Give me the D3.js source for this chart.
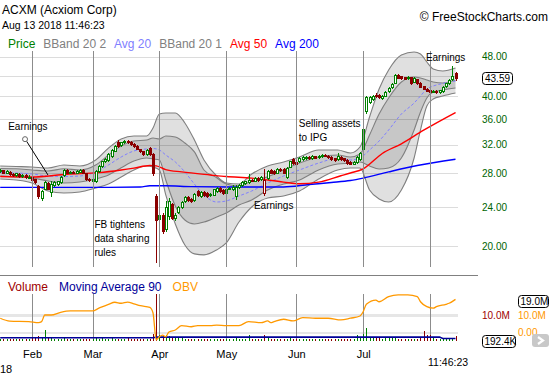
<!DOCTYPE html>
<html>
<head>
<meta charset="utf-8">
<title>ACXM</title>
<script src="https://d3js.org/d3.v7.min.js"></script>
<style>
  body { margin: 0; background: #ffffff; }
  svg { display: block; font-family: "Liberation Sans", Arial, sans-serif; }
</style>
</head>
<body>
<svg id="chart" width="550" height="375"></svg>
<script>

// ---- data ----
var monthNames = ["Feb", "Mar", "Apr", "May", "Jun", "Jul"];
var monthStarts = [10, 29, 50, 71, 93, 114, 135]; // session index of the 1st trading day (Aug has no label)
var priceTicks = [20, 24, 28, 32, 36, 40, 44, 48];
var priceLabels = [20, 24, 28, 32, 36, 40, 48]; // 44.00 is hidden under the last-price box

// [open, high, low, close], one per session starting Jan 18 2018
var candles = [
  [28.30, 28.55, 28.15, 28.40], [28.40, 28.50, 28.05, 28.10], [28.10, 28.40, 28.00, 28.30], [28.25, 28.35, 27.85, 27.90],
  [27.95, 28.05, 27.70, 27.75], [27.80, 28.10, 27.70, 28.00], [27.95, 28.05, 27.60, 27.70], [27.70, 27.95, 27.60, 27.85],
  [27.80, 27.90, 27.45, 27.50], [27.55, 27.75, 27.40, 27.60], [27.55, 27.60, 27.10, 27.20], [27.25, 27.35, 26.80, 26.90],
  [26.40, 26.50, 25.00, 25.20], [25.05, 25.90, 24.80, 25.80], [26.10, 27.00, 26.00, 26.90], [26.80, 26.90, 26.00, 26.10],
  [25.70, 27.10, 25.20, 26.70], [26.50, 27.00, 26.40, 26.90], [26.70, 27.10, 26.60, 27.00], [26.90, 27.70, 26.80, 27.60],
  [27.80, 28.60, 27.70, 28.50], [28.45, 28.55, 28.05, 28.10], [28.10, 28.30, 28.00, 28.20], [28.20, 28.30, 28.00, 28.10],
  [28.10, 28.40, 28.05, 28.30], [28.25, 28.60, 28.20, 28.50], [28.50, 28.60, 28.00, 28.10], [28.00, 28.10, 27.20, 27.30],
  [27.35, 27.45, 27.00, 27.20], [27.10, 27.45, 27.00, 27.30], [27.00, 28.40, 26.90, 28.30], [28.30, 29.10, 28.20, 29.00],
  [29.00, 29.70, 28.90, 29.60], [29.60, 30.00, 29.50, 29.90], [29.80, 30.70, 29.70, 30.60], [30.30, 31.30, 30.20, 31.20],
  [31.10, 31.90, 31.00, 31.80], [32.40, 32.60, 31.70, 31.75], [31.90, 32.40, 31.80, 32.30], [32.30, 32.70, 32.20, 32.50],
  [32.55, 32.65, 32.20, 32.30], [32.40, 32.50, 32.00, 32.10], [32.10, 32.20, 31.70, 31.80], [31.80, 31.90, 31.30, 31.40],
  [31.30, 31.40, 30.90, 31.00], [31.00, 31.10, 30.50, 30.60], [30.60, 31.30, 30.50, 31.20], [31.50, 31.60, 30.50, 30.60],
  [30.60, 30.70, 27.80, 28.00], [25.20, 25.50, 18.60, 22.60], [22.70, 23.40, 22.40, 23.10], [23.10, 23.30, 21.30, 21.50],
  [21.70, 24.60, 21.50, 24.00], [23.00, 25.00, 22.70, 24.60], [24.30, 24.40, 22.70, 22.80], [22.80, 23.30, 22.60, 23.10],
  [23.40, 24.10, 23.30, 24.00], [24.00, 24.60, 23.90, 24.50], [24.60, 25.20, 24.50, 25.10], [25.10, 25.20, 24.70, 24.80],
  [24.90, 25.00, 24.50, 24.70], [24.80, 25.60, 24.70, 25.50], [25.80, 25.90, 25.20, 25.30], [25.20, 25.80, 25.10, 25.70],
  [25.70, 25.80, 25.20, 25.30], [25.60, 25.70, 25.10, 25.25], [25.30, 25.60, 25.20, 25.50], [25.40, 26.10, 25.30, 26.00],
  [25.80, 26.30, 25.70, 26.20], [26.20, 26.30, 25.70, 25.80], [25.90, 26.00, 25.50, 25.60], [25.60, 26.20, 25.50, 26.10],
  [26.10, 26.30, 26.00, 26.20], [26.00, 26.50, 25.90, 26.30], [25.20, 26.50, 24.90, 26.35], [26.30, 26.70, 26.20, 26.60],
  [26.50, 27.00, 26.40, 26.90], [26.80, 27.10, 26.70, 27.00], [26.95, 27.90, 26.85, 27.20], [27.20, 27.30, 27.00, 27.10],
  [27.10, 27.50, 27.00, 27.40], [27.45, 27.55, 27.10, 27.20], [27.25, 27.70, 27.20, 27.60], [25.60, 28.60, 25.40, 27.20],
  [27.40, 28.40, 27.30, 28.30], [28.50, 28.60, 28.00, 28.10], [28.30, 28.40, 27.90, 28.00], [28.10, 28.70, 28.00, 28.60],
  [28.60, 28.70, 28.30, 28.40], [28.60, 28.70, 28.00, 28.10], [27.50, 28.80, 27.40, 28.70], [28.90, 29.70, 28.80, 29.60],
  [29.90, 30.00, 29.30, 29.40], [29.50, 29.60, 29.20, 29.30], [29.60, 30.20, 29.50, 30.10], [29.90, 30.30, 29.80, 30.20],
  [30.00, 30.40, 29.90, 30.25], [30.20, 30.30, 29.90, 30.00], [30.00, 30.50, 29.90, 30.30], [30.30, 30.40, 30.00, 30.10],
  [30.15, 30.50, 30.10, 30.40], [30.30, 30.60, 30.20, 30.50], [30.55, 30.60, 30.30, 30.40], [30.40, 30.50, 30.10, 30.20],
  [30.20, 30.30, 29.80, 29.90], [30.00, 30.10, 29.70, 29.80], [29.90, 30.80, 29.80, 30.40], [30.20, 30.30, 29.80, 29.90],
  [30.00, 30.10, 29.70, 29.80], [29.80, 29.90, 29.30, 29.40], [29.50, 29.60, 29.20, 29.30], [29.30, 29.60, 29.20, 29.50],
  [29.50, 30.30, 29.40, 30.20], [29.90, 30.90, 29.80, 30.70], [31.40, 34.50, 31.20, 34.30], [37.30, 40.00, 37.00, 39.80],
  [38.90, 40.00, 38.80, 39.85], [39.40, 40.20, 39.30, 40.05], [40.30, 40.50, 39.90, 40.00], [40.20, 40.40, 39.70, 39.80],
  [39.60, 40.30, 39.40, 40.10], [40.10, 40.90, 40.00, 40.80], [40.90, 41.70, 40.80, 41.60], [41.70, 42.50, 41.60, 42.40],
  [42.60, 44.30, 42.50, 44.10], [44.10, 44.30, 43.50, 43.60], [43.90, 44.00, 43.40, 43.50], [43.70, 43.80, 43.30, 43.40],
  [43.50, 43.90, 43.40, 43.80], [43.70, 43.80, 42.30, 42.50], [42.80, 43.70, 42.70, 43.60], [43.30, 43.40, 42.40, 42.50],
  [42.60, 42.70, 41.70, 41.80], [41.90, 42.00, 41.30, 41.40], [41.40, 41.50, 40.90, 41.00], [41.20, 41.30, 40.70, 40.80],
  [40.80, 41.20, 40.70, 41.00], [41.00, 41.10, 40.60, 40.70], [40.70, 41.20, 40.60, 41.10], [40.90, 41.90, 40.80, 41.80],
  [41.90, 42.60, 41.80, 42.50], [42.50, 43.30, 42.40, 43.20], [43.30, 46.00, 43.20, 43.90], [44.50, 44.70, 43.20, 43.59]
];

// daily volume, millions
var volumes = [
  0.6, 0.5, 0.7, 0.5, 0.6, 0.8, 0.5, 0.6, 0.7, 0.5,
  0.9, 1.0, 1.8, 1.2, 4.3, 1.0, 1.1, 0.7, 0.6, 0.8,
  0.9, 0.6, 0.5, 0.6, 0.5, 0.7, 0.6, 0.8, 0.6, 0.7,
  1.0, 0.8, 1.6, 0.7, 0.8, 0.9, 0.8, 0.7, 0.6, 0.7,
  1.6, 0.6, 0.7, 0.6, 0.7, 0.8, 0.7, 0.8, 2.6, 18.6,
  2.2, 2.0, 2.2, 1.8, 1.2, 0.9, 1.0, 1.1, 0.8, 0.7,
  0.7, 0.8, 0.6, 0.7, 0.6, 0.5, 0.6, 0.7, 0.6, 0.5,
  0.6, 0.7, 0.5, 0.6, 0.9, 0.6, 0.7, 0.8, 2.2, 0.6,
  0.7, 0.6, 0.8, 2.2, 1.0, 0.7, 0.6, 0.6, 0.5, 0.7,
  0.8, 0.9, 0.7, 0.6, 0.7, 0.6, 0.5, 0.6, 0.6, 0.5,
  0.6, 0.5, 0.6, 0.5, 0.6, 0.5, 0.7, 0.6, 0.5, 0.6,
  0.6, 0.7, 2.2, 1.2, 2.6, 5.2, 1.6, 1.2, 1.0, 0.9,
  0.8, 0.9, 1.0, 0.9, 1.0, 0.8, 0.7, 0.6, 0.7, 0.8,
  0.7, 0.8, 1.0, 3.9, 2.2, 2.2, 1.0, 0.8, 0.7, 0.8,
  0.7, 0.9, 1.0, 1.8
];

// Bollinger 20 (2 sd and 1 sd) and the 20 day average, read at these sessions
var bandIdx = [0, 5, 10, 15, 20, 25, 30, 34, 38, 42, 46, 48, 50, 52, 55, 58, 61, 64, 68, 71,
  75, 79, 84, 89, 94, 100, 106, 110, 113, 116, 119, 122, 126, 130, 132, 134, 136, 139, 143];
var upper2 = [28.98, 28.91, 28.84, 28.71, 29.11, 28.98, 29.79, 31.48, 32.83, 33.29, 33.29, 34.54, 36.84, 37.01, 37.01, 35.35, 32.67, 29.79, 27.67, 26.79,
  26.66, 27.93, 28.98, 29.52, 30.21, 31.20, 31.20, 30.77, 31.63, 36.34, 41.35, 45.14, 48.38, 49.06, 48.60, 46.84, 45.35, 44.93, 45.56];
var upper1 = [28.64, 28.61, 28.45, 28.32, 28.61, 28.45, 29.11, 30.49, 31.78, 32.52, 32.67, 32.98, 32.83, 33.29, 33.13, 32.22, 30.93, 28.45, 27.45, 26.66,
  26.42, 27.04, 27.56, 28.45, 29.37, 30.21, 30.49, 30.21, 30.63, 33.44, 36.84, 39.67, 42.70, 43.70, 43.50, 43.10, 42.70, 42.51, 43.10];
var avg20 = [28.13, 28.06, 27.93, 27.67, 27.61, 27.67, 28.19, 29.11, 30.21, 31.06, 31.35, 31.42, 31.20, 30.49, 29.52, 28.19, 26.66, 25.35, 24.54, 24.66,
  25.23, 25.82, 26.79, 27.67, 28.45, 29.37, 30.02, 29.79, 30.07, 31.20, 32.52, 34.22, 36.84, 38.76, 40.04, 41.35, 41.92, 42.42, 42.90];
var lower1 = [27.67, 27.54, 27.41, 27.04, 26.79, 26.91, 27.29, 27.80, 28.74, 29.65, 30.07, 29.93, 29.79, 27.16, 24.09, 22.58, 22.17, 22.37, 22.90, 23.32,
  24.20, 24.77, 25.94, 26.66, 27.16, 28.45, 29.24, 29.37, 29.52, 28.98, 28.58, 28.71, 30.07, 34.22, 37.18, 39.67, 40.79, 41.16, 41.54];
var lower2 = [27.29, 27.16, 26.79, 25.82, 25.58, 25.70, 26.18, 26.66, 27.54, 28.45, 28.98, 28.84, 28.45, 25.35, 22.17, 20.12, 19.31, 19.22, 19.67, 20.31,
  22.37, 23.98, 25.00, 25.23, 25.82, 27.29, 28.45, 28.71, 28.71, 25.94, 24.88, 24.54, 25.94, 30.07, 34.22, 38.22, 39.48, 40.04, 40.60];

// [session, value]
var avg50 = [[0, 27.6], [10, 27.55], [21, 27.9], [31, 28.1], [38, 28.45], [42, 28.7], [47, 29.05], [49, 29.0], [52, 28.5], [57, 28.2],
  [66, 27.8], [71, 27.6], [79, 27.4], [89, 26.9], [94, 26.7], [100, 26.9], [107, 27.7], [110, 28.05], [114, 28.6], [120, 30.7],
  [126, 32.1], [133, 34.2], [143, 37.1]];
var avg200 = [[0, 26.25], [30, 26.25], [44, 26.3], [47, 26.45], [52, 26.45], [60, 26.35], [75, 26.3], [89, 26.3], [97, 26.6],
  [104, 26.85], [110, 27.1], [114, 27.4], [122, 28.2], [131, 29.05], [143, 29.9]];
var ma90 = [[0, 1.1], [48, 1.1], [49, 1.35], [138, 1.35], [139, 0.8], [143, 0.8]]; // millions
var obv = [[0, 8.1], [3, 6.4], [9, 6.1], [12, 5.5], [13, 6.1], [14, 10.0], [16, 10.0], [19, 11.6], [22, 12.4], [29, 12.4],
  [31, 14.0], [34, 16.3], [36, 17.5], [38, 16.9], [40, 17.6], [42, 16.6], [44, 15.5], [47, 14.5], [48, 11.2], [49, -4.7],
  [50, -2.8], [51, -1.8], [52, -2.8], [53, 0], [55, 1.2], [57, 3.7], [60, 3.1], [62, 3.7], [66, 3.7], [68, 4.1],
  [71, 3.7], [75, 3.7], [78, 6.1], [82, 5.5], [84, 6.5], [85, 5.5], [86, 6.1], [89, 7.5], [92, 6.5], [95, 8.4],
  [99, 8.1], [103, 8.1], [107, 7.1], [110, 8.1], [113, 9.4], [114, 11.9], [115, 16.3], [118, 18.8], [119, 17.8], [122, 20.8],
  [125, 21.8], [128, 21.8], [131, 20.8], [132, 17.8], [134, 14.9], [136, 14.0], [137, 14.9], [140, 16.3], [141, 16.9], [143, 19.2]];

var notes = [
  { lines: ["Earnings"], i: 2.5, price: 34.2 },
  { lines: ["FB tightens", "data sharing", "rules"], i: 29.6, price: 21.8 },
  { lines: ["Earnings"], i: 79.7, price: 23.76 },
  { lines: ["Selling assets", "to IPG"], i: 93.8, price: 34.7 },
  { lines: ["Earnings"], i: 133.7, price: 47.06 }
];
var pointer = { from: [7.8, 32.8], to: [15, 27.8] };

// ---- layout ----
var pane = { left: 0, right: 458, top: 51, bottom: 267 };
var volPane = { top: 294, bottom: 341 };

var colors = {
  up: "#008000", down: "#8b0000", band: "#7f7f7f", avg20: "#8080ff", avg50: "#ff0000", avg200: "#0000ff",
  grid: "#dcdcdc", vgrid: "#8c8c8c", axis: "#006400", volume: "#a00000", ma90: "#000099", obv: "#ff9900"
};

var x = d3.scaleLinear().domain([0, 143]).range([0.2, 455.5]);
var y = d3.scaleLog().domain([20, 48]).range([246.3, 56.7]);
var yVol = d3.scaleLinear().domain([0, 10]).range([340.5, 315.5]);
var yObv = d3.scaleLinear().domain([0, 10]).range([332, 315]);

var svg = d3.select("#chart");

var defs = svg.append("defs");
defs.append("clipPath").attr("id", "clipPrice").append("rect")
  .attr("x", pane.left).attr("y", pane.top)
  .attr("width", pane.right - pane.left).attr("height", pane.bottom - pane.top);
defs.append("clipPath").attr("id", "clipVol").append("rect")
  .attr("x", pane.left).attr("y", volPane.top)
  .attr("width", pane.right - pane.left).attr("height", volPane.bottom - volPane.top + 1);

function candleColor(c, i) {
  var prev = i > 0 ? candles[i - 1][3] : c[0];
  return c[3] >= prev ? colors.up : colors.down;
}

function drawLegend(items, x0, yBase, gap) {
  var cx = x0;
  items.forEach(function (d) {
    var t = svg.append("text")
      .attr("x", cx).attr("y", yBase)
      .attr("font-size", 12)
      .attr("fill", d.color)
      .text(d.label);
    cx += t.node().getComputedTextLength() + gap;
  });
}

// header
svg.append("text").attr("x", 2).attr("y", 14).attr("font-size", 12).text("ACXM (Acxiom Corp)");
svg.append("text").attr("x", 2).attr("y", 29).attr("font-size", 10.5).text("Aug 13 2018 11:46:23");
svg.append("text").attr("x", 548).attr("y", 21).attr("text-anchor", "end").attr("font-size", 12)
  .text("\u00a9 FreeStockCharts.com");

drawLegend([
  { label: "Price", color: "#008000" },
  { label: "BBand 20 2", color: "#808080" },
  { label: "Avg 20", color: colors.avg20 },
  { label: "BBand 20 1", color: "#808080" },
  { label: "Avg 50", color: colors.avg50 },
  { label: "Avg 200", color: colors.avg200 }
], 8, 47.5, 8);

// grid
var grid = svg.append("g").attr("shape-rendering", "crispEdges");
grid.selectAll(".hgrid").data(priceTicks).enter().append("line")
  .attr("class", "hgrid")
  .attr("x1", pane.left).attr("x2", pane.right)
  .attr("y1", function (d) { return Math.round(y(d)) + 0.5; })
  .attr("y2", function (d) { return Math.round(y(d)) + 0.5; })
  .attr("stroke", colors.grid);

grid.selectAll(".vgrid").data([0, 10]).enter().append("line")
  .attr("x1", pane.left).attr("x2", pane.right)
  .attr("y1", function (d) { return Math.round(yObv(d)) + 0.5; })
  .attr("y2", function (d) { return Math.round(yObv(d)) + 0.5; })
  .attr("stroke", "#e6e6e6")
  .attr("stroke-width", function (d) { return d === 10 ? 3 : 2; });

// price pane
var price = svg.append("g").attr("clip-path", "url(#clipPrice)");

function bandArea(lo, hi) {
  return d3.area()
    .x(function (d) { return x(d); })
    .y0(function (d, i) { return y(lo[i]); })
    .y1(function (d, i) { return y(hi[i]); })
    .curve(d3.curveMonotoneX)(bandIdx);
}
function bandLine(vals) {
  return d3.line()
    .x(function (d) { return x(d); })
    .y(function (d, i) { return y(vals[i]); })
    .curve(d3.curveMonotoneX)(bandIdx);
}
var pairLine = d3.line()
  .x(function (d) { return x(d[0]); })
  .y(function (d) { return y(d[1]); })
  .curve(d3.curveMonotoneX);

price.append("path").attr("d", bandArea(lower2, upper2)).attr("fill", "#000").attr("fill-opacity", 0.12);
price.append("path").attr("d", bandArea(lower1, upper1)).attr("fill", "#000").attr("fill-opacity", 0.11);
[upper2, upper1, lower1, lower2].forEach(function (vals) {
  price.append("path").attr("d", bandLine(vals))
    .attr("fill", "none").attr("stroke", colors.band).attr("stroke-width", 1.1);
});

// month gridlines (drawn over the bands like the original)
var vlines = svg.append("g").attr("shape-rendering", "crispEdges");
monthStarts.forEach(function (m) {
  var px = Math.round(x(m)) + 0.5;
  vlines.append("line").attr("x1", px).attr("x2", px).attr("y1", pane.top).attr("y2", pane.bottom).attr("stroke", colors.vgrid);
  vlines.append("line").attr("x1", px).attr("x2", px).attr("y1", volPane.top).attr("y2", volPane.bottom).attr("stroke", colors.vgrid);
});

price.append("path").attr("d", bandLine(avg20))
  .attr("fill", "none").attr("stroke", colors.avg20).attr("stroke-width", 1).attr("stroke-dasharray", "3,2");
price.append("path").datum(avg200).attr("d", pairLine)
  .attr("fill", "none").attr("stroke", colors.avg200).attr("stroke-width", 1.4);
price.append("path").datum(avg50).attr("d", pairLine)
  .attr("fill", "none").attr("stroke", colors.avg50).attr("stroke-width", 1.4);

// candles
var cg = price.append("g").attr("shape-rendering", "crispEdges");
var candle = cg.selectAll(".candle").data(candles).enter().append("g").attr("class", "candle");
candle.append("line")
  .attr("x1", function (d, i) { return Math.round(x(i)) + 0.5; })
  .attr("x2", function (d, i) { return Math.round(x(i)) + 0.5; })
  .attr("y1", function (d) { return Math.round(y(d[1])); })
  .attr("y2", function (d) { return Math.round(y(d[2])) + 1; })
  .attr("stroke", candleColor);
candle.append("rect")
  .attr("x", function (d, i) { return Math.round(x(i)) - 0.5; })
  .attr("y", function (d) { return Math.round(y(Math.max(d[0], d[3]))) + 0.5; })
  .attr("width", 2)
  .attr("height", function (d) {
    return Math.max(Math.round(y(Math.min(d[0], d[3]))) - Math.round(y(Math.max(d[0], d[3]))), 1);
  })
  .attr("fill", function (d, i) { return d[3] > d[0] ? "#ffffff" : candleColor(d, i); })
  .attr("stroke", candleColor);

// annotations
var notesG = svg.append("g").attr("font-size", 10).attr("fill", "#000");
notes.forEach(function (n) {
  var t = notesG.append("text").attr("x", x(n.i)).attr("y", y(n.price));
  n.lines.forEach(function (l, k) {
    t.append("tspan").attr("x", x(n.i)).attr("dy", k === 0 ? 0 : 14).text(l);
  });
});
notesG.append("line")
  .attr("x1", x(pointer.from[0]) + 1.5).attr("y1", y(pointer.from[1]) + 2)
  .attr("x2", x(pointer.to[0])).attr("y2", y(pointer.to[1]))
  .attr("stroke", "#000").attr("stroke-width", 1);
notesG.append("circle")
  .attr("cx", x(pointer.from[0])).attr("cy", y(pointer.from[1])).attr("r", 2.5)
  .attr("fill", "#fff").attr("stroke", "#666");

// right price axis
var yAxis = svg.append("g")
  .attr("transform", "translate(479,0)")
  .call(d3.axisRight(y).tickValues(priceLabels).tickSize(0).tickPadding(3).tickFormat(d3.format(".2f")));
yAxis.select(".domain").remove();
yAxis.attr("font-family", null).attr("font-size", 10);
yAxis.selectAll("text").attr("fill", colors.axis);

var lastClose = candles[candles.length - 1][3];
var lastBox = svg.append("g").attr("transform", "translate(482," + Math.round(y(lastClose)) + ")");
lastBox.append("rect").attr("x", 0.5).attr("y", -5.5).attr("width", 30).attr("height", 12).attr("rx", 3)
  .attr("fill", "#fff").attr("stroke", "#000");
lastBox.append("text").attr("x", 15.5).attr("y", 0.5).attr("dy", "0.35em").attr("text-anchor", "middle")
  .attr("font-size", 10).text(d3.format(".2f")(lastClose));

// separator
svg.append("line").attr("x1", 0).attr("x2", 478).attr("y1", 275.5).attr("y2", 275.5)
  .attr("stroke", "#808080").attr("shape-rendering", "crispEdges");

// volume pane
drawLegend([
  { label: "Volume", color: colors.volume },
  { label: "Moving Average 90", color: colors.ma90 },
  { label: "OBV", color: colors.obv }
], 8, 291, 11);

var vol = svg.append("g").attr("clip-path", "url(#clipVol)");
vol.append("g").attr("shape-rendering", "crispEdges")
  .selectAll("line").data(volumes).enter().append("line")
  .attr("x1", function (d, i) { return Math.round(x(i)) + 0.5; })
  .attr("x2", function (d, i) { return Math.round(x(i)) + 0.5; })
  .attr("y1", yVol(0))
  .attr("y2", function (d) { return yVol(d); })
  .attr("stroke", function (d, i) { return candleColor(candles[i], i); });

vol.append("path").datum(ma90)
  .attr("d", d3.line().x(function (d) { return x(d[0]); }).y(function (d) { return yVol(d[1]); }))
  .attr("fill", "none").attr("stroke", colors.ma90).attr("stroke-width", 1.6);
vol.append("path").datum(obv)
  .attr("d", d3.line().x(function (d) { return x(d[0]); }).y(function (d) { return yObv(d[1]); }).curve(d3.curveMonotoneX))
  .attr("fill", "none").attr("stroke", colors.obv).attr("stroke-width", 1.3);

// volume pane labels
var lastObv = obv[obv.length - 1][1];
function boxLabel(x0, yc, w, text) {
  var g = svg.append("g").attr("transform", "translate(" + x0 + "," + Math.round(yc) + ")");
  g.append("rect").attr("x", 0.5).attr("y", -5.5).attr("width", w).attr("height", 12).attr("rx", 3)
    .attr("fill", "#fff").attr("stroke", "#000");
  g.append("text").attr("x", 2.5).attr("y", 0.5).attr("dy", "0.35em").attr("font-size", 10).text(text);
}
boxLabel(518, yObv(lastObv) + 2, 30, "19.0M");
svg.append("text").attr("x", 482).attr("y", yVol(10)).attr("dy", "0.35em").attr("font-size", 10)
  .attr("fill", colors.volume).text("10.0M");
svg.append("text").attr("x", 518).attr("y", yObv(10)).attr("dy", "0.35em").attr("font-size", 10)
  .attr("fill", colors.obv).text("10.0M");
svg.append("text").attr("x", 518).attr("y", yObv(0)).attr("dy", "0.35em").attr("font-size", 10)
  .attr("fill", colors.obv).text("0.00");
boxLabel(482, yVol(0), 33, "192.4K");

var btn = svg.append("g").attr("transform", "translate(532,334)");
btn.append("rect").attr("width", 17).attr("height", 13).attr("rx", 3).attr("fill", "#c8c8c8");
btn.append("path").attr("d", "M6,3 L11,6.5 L6,10").attr("fill", "none").attr("stroke", "#fff").attr("stroke-width", 2.2);

// month axis
var xAxis = svg.append("g")
  .attr("transform", "translate(0,348)")
  .call(d3.axisBottom(x).tickValues(monthStarts.slice(0, monthNames.length)).tickSize(0).tickPadding(2)
    .tickFormat(function (d, i) { return monthNames[i]; }));
xAxis.select(".domain").remove();
xAxis.attr("font-family", null).attr("font-size", 11);
xAxis.selectAll("text").attr("fill", "#000");

svg.append("text").attr("x", 0).attr("y", 373).attr("font-size", 11).text("18");
svg.append("text").attr("x", 428).attr("y", 366).attr("font-size", 10.5).text("11:46:23");

</script>
</body>
</html>
